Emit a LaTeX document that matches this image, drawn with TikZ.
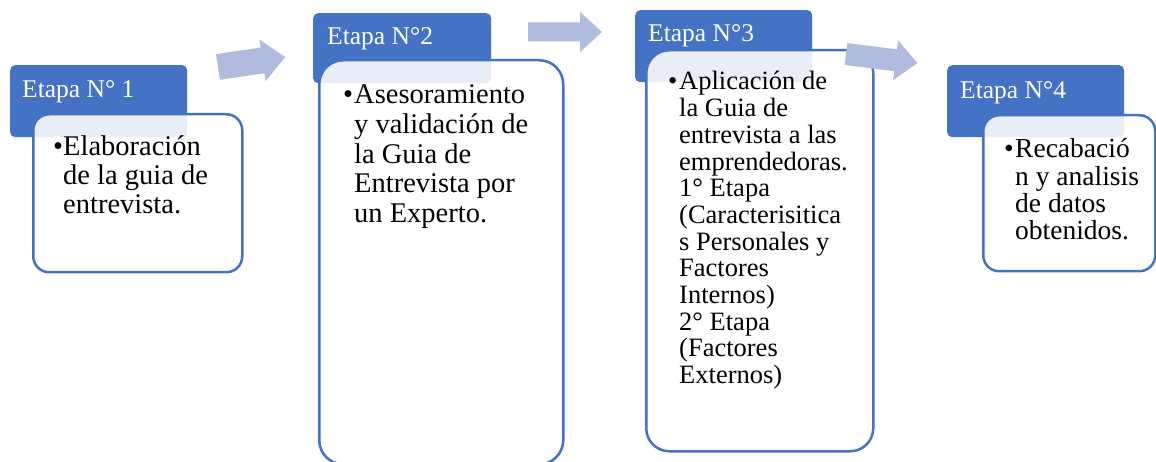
\documentclass[tikz,border=0pt]{standalone}
\usepackage{fontspec}
\setmainfont{Liberation Serif}
\definecolor{hdrblue}{HTML}{4472C4}
\definecolor{arrowblue}{HTML}{AFBCE0}
\tikzset{
  hdrbox/.style={fill=hdrblue, draw=none, rounded corners=5pt, anchor=north west, inner sep=0pt},
  bodybox/.style={draw=hdrblue, line width=2.5pt, fill=white, fill opacity=0.88, anchor=north west, inner sep=0pt},
  hdrtext/.style={text=white, anchor=base west, inner sep=0pt, font=\fontsize{25.5}{28}\selectfont},
  bodytext/.style={text=black, anchor=base west, inner sep=0pt},
  blockarrow/.style={fill=arrowblue, draw=none},
}
\begin{document}
\begin{tikzpicture}[x=1pt,y=-1pt]
\useasboundingbox (0,0) rectangle (1156,462);
\fill[white] (0,0) rectangle (1156,462);

% Group 1
\node[hdrbox, minimum width=177pt, minimum height=72pt] (h1) at (10,65) {};
\node[bodybox, rounded corners=16pt, minimum width=209pt, minimum height=158pt] (b1) at (32,113) {};
\node[hdrtext] (h1t) at (22,98) {Etapa N° 1};
\node[bodytext, font=\fontsize{28.5}{29}\selectfont] (b1d) at (53,156) {•};
\node[bodytext, font=\fontsize{28.5}{29}\selectfont] (b1t) at (63,156)
  {\begin{tabular}[t]{@{}l@{}}Elaboración\\de la guia de\\entrevista.\end{tabular}};

% Group 2
\node[hdrbox, minimum width=178pt, minimum height=70pt] (h2) at (313,13) {};
\node[bodybox, rounded corners=24pt, minimum width=244pt, minimum height=404pt] (b2) at (318,59) {};
\node[hdrtext] (h2t) at (327,45) {Etapa N°2};
\node[bodytext, font=\fontsize{28.5}{29.6}\selectfont] (b2d) at (343,104) {•};
\node[bodytext, font=\fontsize{28.5}{29.6}\selectfont] (b2t) at (354,104)
  {\begin{tabular}[t]{@{}l@{}}Asesoramiento\\y validación de\\la Guia de\\Entrevista por\\un Experto.\end{tabular}};

% Group 3
\node[hdrbox, minimum width=177pt, minimum height=72pt] (h3) at (635,10) {};
\node[bodybox, rounded corners=23pt, minimum width=227pt, minimum height=401pt] (b3) at (645,49) {};
\node[hdrtext] (h3t) at (648,42) {Etapa N°3};
\node[bodytext, font=\fontsize{26.5}{26.7}\selectfont] (b3d) at (668,90) {•};
\node[bodytext, font=\fontsize{26.5}{26.7}\selectfont] (b3t) at (679,90)
  {\begin{tabular}[t]{@{}l@{}}Aplicación de\\la Guia de\\entrevista a las\\emprendedoras.\\1° Etapa\\(Caracterisitica\\s Personales y\\Factores\\Internos)\\2° Etapa\\(Factores\\Externos)\end{tabular}};

% Group 4
\node[hdrbox, minimum width=177pt, minimum height=72pt] (h4) at (947,65) {};
\node[bodybox, rounded corners=16pt, minimum width=172pt, minimum height=156pt] (b4) at (982,114) {};
\node[hdrtext] (h4t) at (960,99) {Etapa N°4};
\node[bodytext, font=\fontsize{27.5}{27.3}\selectfont] (b4d) at (1004,158) {•};
\node[bodytext, font=\fontsize{27.5}{27.3}\selectfont] (b4t) at (1015,158)
  {\begin{tabular}[t]{@{}l@{}}Recabació\\n y analisis\\de datos\\obtenidos.\end{tabular}};

% Arrows
\begin{scope}[shift={(218,67)}, rotate=8.5]
  \fill[blockarrow] (0,-13) -- (45,-13) -- (45,-21) -- (68,0) -- (45,21) -- (45,13) -- (0,13) -- cycle;
\end{scope}
\begin{scope}[shift={(528,32)}]
  \fill[blockarrow] (0,-9.5) -- (52,-9.5) -- (52,-20) -- (74,0) -- (52,20) -- (52,9.5) -- (0,9.5) -- cycle;
\end{scope}
\begin{scope}[shift={(846,54)}, rotate=-7.2]
  \fill[blockarrow] (0,-11) -- (50,-11) -- (50,-20) -- (72,0) -- (50,20) -- (50,11) -- (0,11) -- cycle;
\end{scope}
\end{tikzpicture}
\end{document}
